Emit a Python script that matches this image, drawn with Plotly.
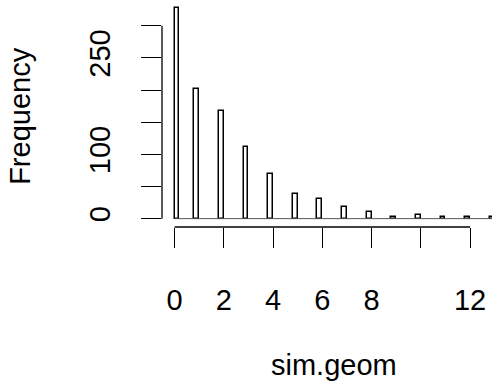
import numpy as np
import plotly.graph_objects as go

# Data: frequency of each simulated geometric value
values = [0, 1, 2, 3, 4, 5, 6, 7, 8, 9, 10, 11, 12, 13]
counts = [327, 202, 168, 112, 69, 38, 30, 18, 10, 3, 5, 3, 3, 2]
bin_width = 0.2
x_tickvals = [0, 2, 4, 6, 8, 10, 12]
x_ticktext = ["0", "2", "4", "6", "8", "", "12"]
y_tickvals = [0, 50, 100, 150, 200, 250, 300]
y_ticktext = ["0", "", "100", "", "", "250", ""]

# R-style right-closed bins: first bin [0, 0.2], others (k-0.2, k]
lefts = [v if v == 0 else v - bin_width for v in values]
centers = [l + bin_width / 2 for l in lefts]

FONT = "Liberation Sans, Arial, sans-serif"
FS = 29

fig = go.Figure()
# baseline of empty bins
fig.add_trace(go.Scatter(x=[0, max(values)], y=[0, 0], mode="lines",
                         line=dict(color="#555555", width=1), hoverinfo="skip",
                         showlegend=False))
fig.add_trace(go.Bar(x=centers, y=counts, width=bin_width,
                     marker=dict(color="white", line=dict(color="black", width=1.5)),
                     showlegend=False))

fig.update_layout(
    width=492, height=387,
    margin=dict(l=162, r=0, t=0, b=160),
    paper_bgcolor="white", plot_bgcolor="white",
    font=dict(family=FONT, size=FS, color="black"),
    bargap=0,
    xaxis=dict(range=[-0.51, 12.89], tickvals=x_tickvals, ticktext=x_ticktext,
               ticks="outside", ticklen=20, tickwidth=1.3, tickcolor="black",
               showgrid=False, zeroline=False, showline=False,
               ticklabelstandoff=27, tickfont=dict(size=FS)),
    yaxis=dict(range=[-13, 340], tickvals=y_tickvals, ticktext=y_ticktext,
               ticks="outside", ticklen=20, tickwidth=1.3, tickcolor="black",
               showgrid=False, zeroline=False, showline=False, tickangle=-90,
               ticklabelstandoff=19, tickfont=dict(size=FS)),
    shapes=[
        dict(type="line", xref="x", yref="paper", x0=0, x1=12, y0=0, y1=0,
             line=dict(color="black", width=1.3)),
        dict(type="line", xref="paper", yref="y", x0=0, x1=0, y0=0, y1=300,
             line=dict(color="black", width=1.3)),
    ],
    annotations=[
        dict(text="sim.geom", xref="paper", yref="paper", x=0.52, y=-0.61,
             showarrow=False, font=dict(size=FS), xanchor="center", yanchor="middle"),
        dict(text="Frequency", xref="paper", yref="paper", x=-0.43, y=0.49,
             showarrow=False, font=dict(size=FS), textangle=-90,
             xanchor="center", yanchor="middle"),
    ],
)

fig.write_html("out.html")
